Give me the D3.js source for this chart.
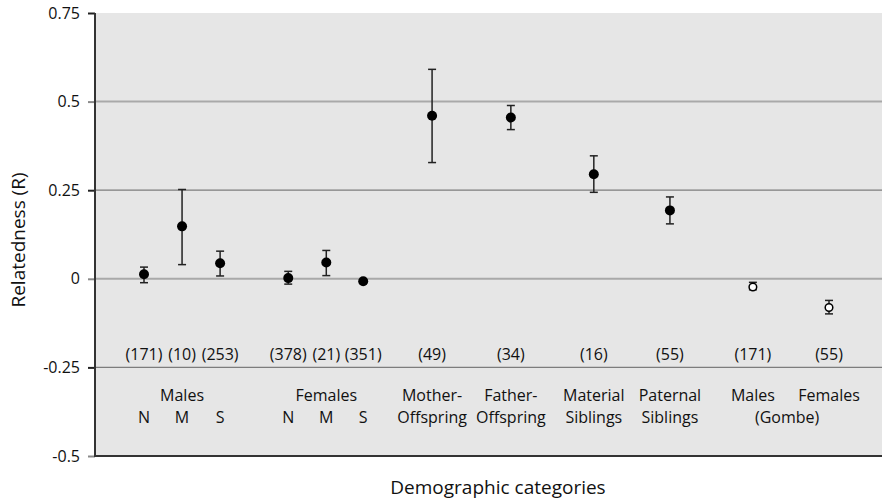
<!DOCTYPE html>
<html><head><meta charset="utf-8">
<script src="https://cdn.jsdelivr.net/npm/d3@7"></script>
<style>body{margin:0;background:#fff}svg{display:block}text{font-family:"Open Sans",sans-serif;fill:#111}</style>
</head><body><svg id="c" width="882" height="501"></svg>
<script>
// Data
const slots    = [0, 1, 2, 3.79, 4.79, 5.76, 7.57, 9.64, 11.82, 13.82, 16.0, 18.0];
const values   = [0.013, 0.148, 0.044, 0.002, 0.046, -0.007, 0.460, 0.455, 0.295, 0.193, -0.023, -0.081];
const errHigh  = [0.033, 0.252, 0.078, 0.021, 0.080, -0.007, 0.591, 0.489, 0.347, 0.231, -0.010, -0.061];
const errLow   = [-0.011, 0.040, 0.008, -0.015, 0.009, -0.007, 0.328, 0.421, 0.244, 0.155, -0.031, -0.099];
const hollow   = [false,false,false,false,false,false,false,false,false,false,true,true];
const nLabels  = ["(171)","(10)","(253)","(378)","(21)","(351)","(49)","(34)","(16)","(55)","(171)","(55)"];
const subLabels = ["N","M","S","N","M","S","","","","","",""];
const groupLine1 = [
  {slot: 1, text: "Males"}, {slot: 4.79, text: "Females"},
  {slot: 7.57, text: "Mother-"}, {slot: 9.64, text: "Father-"},
  {slot: 11.82, text: "Material"}, {slot: 13.82, text: "Paternal"},
  {slot: 16.0, text: "Males"}, {slot: 18.0, text: "Females"}];
const groupLine2 = [
  {slot: 7.57, text: "Offspring"}, {slot: 9.64, text: "Offspring"},
  {slot: 11.82, text: "Siblings"}, {slot: 13.82, text: "Siblings"},
  {slot: 16.9, text: "(Gombe)"}];
const yTicks = [0.75, 0.5, 0.25, 0, -0.25, -0.5];
const yTickLabels = ["0.75","0.5","0.25","0","-0.25","-0.5"];
const gridVals = [0.5, 0.25, 0, -0.25];

const svg = d3.select("#c");
const pLeft = 95, pRight = 882, pTop = 13, pBottom = 456;
const x = d3.scaleLinear().domain([0, 18]).range([144, 829]);
const y = d3.scaleLinear().domain([-0.5, 0.75]).range([pBottom, pTop]);

svg.append("rect").attr("x", pLeft).attr("y", y(0.75)).attr("width", pRight-pLeft).attr("height", pBottom - y(0.75)).attr("fill", "#e6e6e6");

// gridlines
svg.selectAll(".grid").data(gridVals).enter().append("line")
  .attr("x1", pLeft).attr("x2", pRight).attr("y1", d=>y(d)).attr("y2", d=>y(d))
  .attr("stroke", (d,i)=> i%2===0 ? "#a9a9a9" : "#7d7d7d")
  .attr("stroke-width", (d,i)=> i%2===0 ? 2 : 1.2);

// y axis
const yAxis = d3.axisLeft(y).tickValues(yTicks).tickFormat((d,i)=>yTickLabels[i]).tickSize(7).tickPadding(8);
const ga = svg.append("g").attr("transform", `translate(${pLeft},0)`).call(yAxis);
ga.select(".domain").remove();
ga.selectAll(".tick line").attr("stroke", (d,i)=> (i%2===1 || i===5) ? "#8a8a8a" : "#222").attr("stroke-width", 2);
ga.selectAll(".tick text").style("font-size","16px").style("font-family","'Open Sans',sans-serif").attr("fill","#111");

svg.append("line").attr("x1", pLeft).attr("x2", pLeft).attr("y1", y(0.75)).attr("y2", pBottom+1).attr("stroke","#333").attr("stroke-width",2);
svg.append("line").attr("x1", pLeft-1).attr("x2", pRight).attr("y1", pBottom).attr("y2", pBottom).attr("stroke","#333").attr("stroke-width",2);

// error bars
const idx = d3.range(values.length);
const eb = svg.append("g").attr("stroke","#222").attr("stroke-width",1.5);
idx.filter(i=>errHigh[i]!==errLow[i]).forEach(i=>{
  const cx = x(slots[i]);
  eb.append("line").attr("x1",cx).attr("x2",cx).attr("y1",y(errHigh[i])).attr("y2",y(errLow[i]));
  eb.append("line").attr("x1",cx-4).attr("x2",cx+4).attr("y1",y(errHigh[i])).attr("y2",y(errHigh[i]));
  eb.append("line").attr("x1",cx-4).attr("x2",cx+4).attr("y1",y(errLow[i])).attr("y2",y(errLow[i]));
});

// points
svg.selectAll(".pt").data(idx).enter().append("circle")
  .attr("cx", i=>x(slots[i])).attr("cy", i=>y(values[i]))
  .attr("r", i=> hollow[i] ? 3.8 : 5)
  .attr("fill", i=> hollow[i] ? "#fff" : "#000")
  .attr("stroke", "#000").attr("stroke-width", i=> hollow[i] ? 1.5 : 0);

// n labels
svg.selectAll(".nl").data(idx).enter().append("text")
  .attr("x", i=>x(slots[i])).attr("y", 360).attr("text-anchor","middle")
  .style("font-size","16px").text(i=>nLabels[i]);

// group labels
svg.selectAll(".g1").data(groupLine1).enter().append("text")
  .attr("x", d=>x(d.slot)).attr("y", 401).attr("text-anchor","middle")
  .style("font-size","16px").text(d=>d.text);
svg.selectAll(".g2").data(groupLine2).enter().append("text")
  .attr("x", d=>x(d.slot)).attr("y", 423).attr("text-anchor","middle")
  .style("font-size","16px").text(d=>d.text);
svg.selectAll(".sub").data(idx.filter(i=>subLabels[i])).enter().append("text")
  .attr("x", i=>x(slots[i])).attr("y", 423).attr("text-anchor","middle")
  .style("font-size","16px").text(i=>subLabels[i]);

// axis titles
svg.append("text").attr("transform","translate(25,240) rotate(-90)").attr("text-anchor","middle")
  .style("font-size","19px").text("Relatedness (R)");
svg.append("text").attr("x", 498).attr("y", 494).attr("text-anchor","middle")
  .style("font-size","19px").text("Demographic categories");
</script></body></html>
